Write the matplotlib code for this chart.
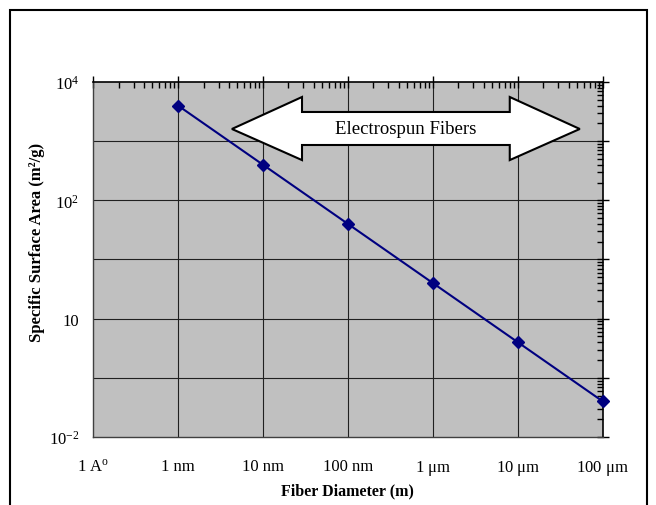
import numpy as np
import matplotlib
matplotlib.use("Agg")
import matplotlib.pyplot as plt
from matplotlib.patches import Polygon, Rectangle
from matplotlib.ticker import LogLocator, NullFormatter

plt.rcParams['font.family'] = ['Liberation Serif', 'DejaVu Serif']
plt.rcParams['mathtext.fontset'] = 'stix'

# fiber diameter (m) vs specific surface area (m^2/g)
diameters = [1e-9, 1e-8, 1e-7, 1e-6, 1e-5, 1e-4]
surface_area = [4000, 400, 40, 4, 0.4, 0.04]

x_ticks = [1e-10, 1e-9, 1e-8, 1e-7, 1e-6, 1e-5, 1e-4]
x_labels = ['1 A$^\\mathregular{o}$', '1 nm', '10 nm', '100 nm',
            '1 $\\mathregular{\\mu}$m', '10 $\\mathregular{\\mu}$m', '100 $\\mathregular{\\mu}$m']
y_ticks = [1e-2, 1e-1, 1e0, 1e1, 1e2, 1e3, 1e4]
y_labels = ['$\\mathregular{10^{-2}}$', '', '10', '', '$\\mathregular{10^{2}}$', '',
            '$\\mathregular{10^{4}}$']

fig = plt.figure(figsize=(6.56, 5.06), dpi=100)
fig.patches.append(Rectangle((0.0152, -0.02), 0.971, 0.998, transform=fig.transFigure,
                             fill=False, edgecolor='black', linewidth=1.5))

ax = fig.add_axes([0.1418, 0.1344, 0.777, 0.7016])
ax.set_facecolor('#c0c0c0')
ax.plot(diameters, surface_area, color='#000080', linewidth=1.5,
        marker='D', markersize=6, zorder=3, clip_on=False)

ax.set_xscale('log')
ax.set_yscale('log')

ax.set_xticks(x_ticks)
ax.set_xticklabels(x_labels, fontsize=12)
ax.set_yticks(y_ticks)
ax.set_yticklabels(y_labels, fontsize=12)
ax.xaxis.set_minor_locator(LogLocator(base=10, subs=np.arange(2, 10), numticks=20))
ax.yaxis.set_minor_locator(LogLocator(base=10, subs=np.arange(2, 10), numticks=20))
ax.xaxis.set_minor_formatter(NullFormatter())
ax.yaxis.set_minor_formatter(NullFormatter())
ax.set_xlim(1e-10, 1e-4)
ax.set_ylim(1e-2, 1e4)

# grid at every decade
for v in x_ticks[1:-1]:
    ax.axvline(v, color='#202020', linewidth=0.8, zorder=1)
for v in y_ticks[1:-1]:
    ax.axhline(v, color='#202020', linewidth=0.8, zorder=1)

ax.tick_params(which='both', bottom=False, left=False, top=True, right=True,
               labelbottom=True, labelleft=True, color='black')
ax.tick_params(which='major', direction='inout', length=8, width=1)
ax.tick_params(which='minor', direction='in', length=4, width=1)
ax.tick_params(axis='x', which='major', pad=11)
ax.tick_params(axis='y', which='major', pad=6)

for s in ['top', 'right']:
    ax.spines[s].set_linewidth(1.2)
for s in ['bottom', 'left']:
    ax.spines[s].set_color('#404040')
    ax.spines[s].set_linewidth(1.0)

ax.set_xlabel('Fiber Diameter (m)', fontsize=11.5, fontweight='bold')
ax.xaxis.set_label_coords(0.5, -0.128)
ax.set_ylabel('Specific Surface Area (m²/g)', fontsize=12, fontweight='bold')
ax.yaxis.set_label_coords(-0.094, 0.55)

# double arrow annotation
arrow = Polygon([(0.2725, 0.8676), (0.41, 0.9577), (0.41, 0.9155), (0.8176, 0.9155),
                 (0.8176, 0.9577), (0.955, 0.8676), (0.8176, 0.780), (0.8176, 0.8225),
                 (0.41, 0.8225), (0.41, 0.780)], closed=True, transform=ax.transAxes,
                facecolor='white', edgecolor='black', linewidth=1.5, zorder=4)
ax.add_patch(arrow)
ax.text(0.613, 0.8676, 'Electrospun Fibers', transform=ax.transAxes, fontsize=13.5,
        ha='center', va='center', zorder=5)

fig.savefig('out.png', dpi=100)
